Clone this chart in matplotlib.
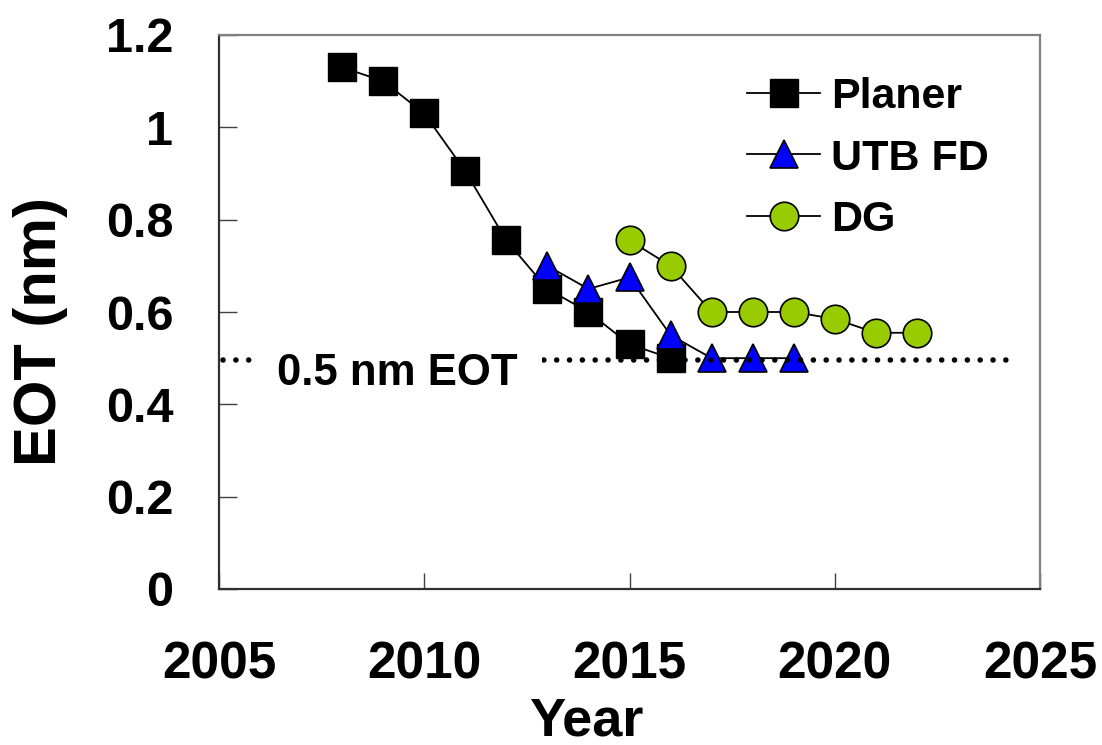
import matplotlib.pyplot as plt

plt.rcParams['font.family'] = ['Liberation Sans', 'DejaVu Sans']
plt.rcParams['font.weight'] = 'bold'

# values
planer_years = [2008, 2009, 2010, 2011, 2012, 2013, 2014, 2015, 2016]
planer_eot = [1.13, 1.10, 1.03, 0.905, 0.755, 0.65, 0.60, 0.53, 0.50]

utb_years = [2013, 2014, 2015, 2016, 2017, 2018, 2019]
utb_eot = [0.70, 0.65, 0.675, 0.55, 0.50, 0.50, 0.50]

dg_years = [2015, 2016, 2017, 2018, 2019, 2020, 2021, 2022]
dg_eot = [0.755, 0.70, 0.60, 0.60, 0.60, 0.585, 0.555, 0.555]

target_eot = 0.495
target_span = [2005.1, 2024.45]

x_ticks = [2005, 2010, 2015, 2020, 2025]
y_ticks = [0, 0.2, 0.4, 0.6, 0.8, 1.0, 1.2]
y_tick_labels = ['0', '0.2', '0.4', '0.6', '0.8', '1', '1.2']

W, H = 1102, 745
fig = plt.figure(figsize=(W / 100, H / 100), dpi=100)
ax = fig.add_axes([219 / W, 1 - 589 / H, 821 / W, 554 / H])

ms = 20.5
ax.plot(planer_years, planer_eot, color='black', lw=1.3, marker='s', ms=ms,
        mfc='black', mec='black', mew=1, label='Planer', zorder=3)
ax.plot(utb_years, utb_eot, color='black', lw=1.3, marker='^', ms=ms,
        mfc='#0000FF', mec='black', mew=1.2, label='UTB FD', zorder=4)
ax.plot(dg_years, dg_eot, color='black', lw=1.3, marker='o', ms=ms,
        mfc='#99CC00', mec='black', mew=1.2, label='DG', zorder=5)

ax.plot(target_span, [target_eot, target_eot], color='black', lw=4,
        ls=(0, (0.01, 2.3)), dash_capstyle='round', zorder=6)
ax.text(2009.35, 0.441, '0.5 nm EOT', fontsize=31.5, fontweight='bold',
        ha='center', va='baseline', zorder=7,
        bbox=dict(boxstyle='square,pad=0.55', fc='white', ec='none'))

ax.set_xlim(2005, 2025)
ax.set_ylim(0, 1.2)
ax.set_xticks(x_ticks)
ax.set_yticks(y_ticks)
ax.set_yticklabels(y_tick_labels)
ax.tick_params(axis='x', direction='in', length=11.5, width=1, color='#404040',
               pad=37, labelsize=37)
ax.tick_params(axis='y', direction='in', length=13, width=1, color='#404040',
               pad=33, labelsize=35)

for side in ['left', 'bottom']:
    ax.spines[side].set_color('#303030')
    ax.spines[side].set_linewidth(1.6)
for side in ['top', 'right']:
    ax.spines[side].set_color('#808080')
    ax.spines[side].set_linewidth(1.6)

ax.set_xlabel('Year', fontsize=39, fontweight='bold')
ax.set_ylabel('EOT (nm)', fontsize=43, fontweight='bold')
ax.xaxis.set_label_coords(0.447, -0.194)
ax.yaxis.set_label_coords(-0.184, 0.465)

ax.legend(loc='upper left', bbox_to_anchor=(747 / W, 1 - 77 / H),
          bbox_transform=fig.transFigure, frameon=False,
          handlelength=1.7, handletextpad=0.26, labelspacing=0.5,
          borderpad=0, borderaxespad=0, prop={'weight': 'bold', 'size': 31})

fig.savefig('out.png', dpi=100)
